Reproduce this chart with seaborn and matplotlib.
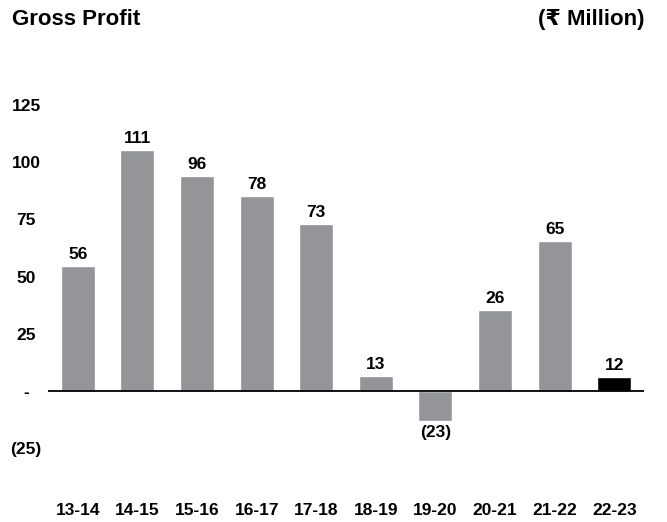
import matplotlib
matplotlib.use("Agg")
import matplotlib.pyplot as plt
import seaborn as sns

# values as printed on the bars, and bar heights as drawn in the picture
years = ["13-14", "14-15", "15-16", "16-17", "17-18",
         "18-19", "19-20", "20-21", "21-22", "22-23"]
profit_labels = ["56", "111", "96", "78", "73", "13", "(23)", "26", "65", "12"]
bar_heights = [54.7, 105.2, 93.9, 85.2, 72.9, 6.6, -13.0, 35.4, 65.6, 6.1]
bar_colors = ["#939598"] * 9 + ["#000000"]

ytick_values = [-25, 0, 25, 50, 75, 100, 125]
ytick_labels = ["(25)", "-", "25", "50", "75", "100", "125"]

sns.set_style("white")
plt.rcParams["font.family"] = ["Liberation Sans", "DejaVu Sans"]
plt.rcParams["text.color"] = "black"
plt.rcParams["xtick.color"] = "black"
plt.rcParams["ytick.color"] = "black"

fig = plt.figure(figsize=(6.67, 5.22), dpi=100)
ax = fig.add_axes([0.072, 0.1193, 0.8936, 0.702])

sns.barplot(x=years, y=bar_heights, hue=years, palette=bar_colors,
            legend=False, width=0.57, saturation=1, ax=ax)

for container, lbl in zip(ax.containers, profit_labels):
    ax.bar_label(container, labels=[lbl], padding=3, color="black",
                 fontsize=12.5, fontweight="bold")

ax.axhline(0, color="black", lw=1.3)
ax.set_xlim(-0.5, 9.5)
ax.set_ylim(-30, 130)

ax.set_yticks(ytick_values)
ax.set_yticklabels(ytick_labels, fontsize=12.5, fontweight="bold")
for t in ax.get_yticklabels():
    t.set_horizontalalignment("center")
ax.tick_params(axis="y", length=0, pad=15.8)

ax.set_xticks(range(len(years)))
ax.set_xticklabels(years, fontsize=12.5, fontweight="bold")
ax.tick_params(axis="x", length=0, pad=31)

for s in ax.spines.values():
    s.set_visible(False)
ax.set_xlabel("")
ax.set_ylabel("")

fig.text(12 / 667, 1 - 19.5 / 522, "Gross Profit", ha="left", va="center",
         fontsize=16, fontweight="bold")
fig.text(645 / 667, 1 - 19.5 / 522, "(₹ Million)", ha="right", va="center",
         fontsize=16, fontweight="bold")

fig.savefig("out.png", dpi=100)
